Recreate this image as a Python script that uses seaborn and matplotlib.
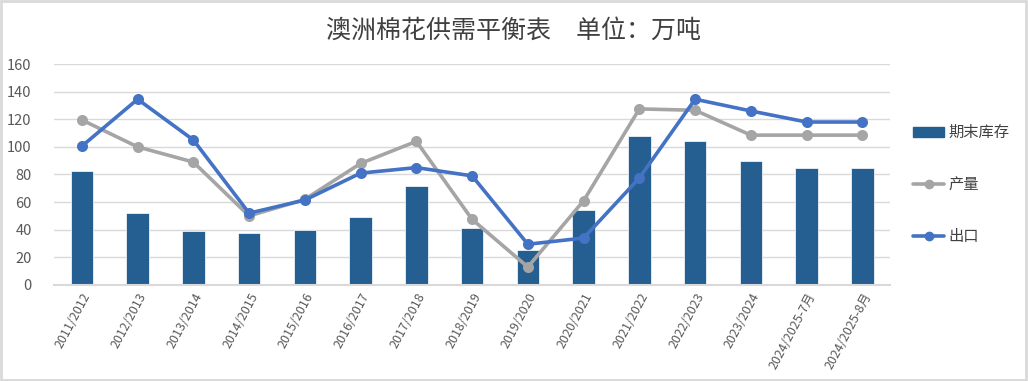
import pandas as pd
import seaborn as sns
import matplotlib.pyplot as plt
from matplotlib.lines import Line2D
from matplotlib.patches import Patch, Rectangle

# chart data (万吨)
seasons = ["2011/2012", "2012/2013", "2013/2014", "2014/2015", "2015/2016",
           "2016/2017", "2017/2018", "2018/2019", "2019/2020", "2020/2021",
           "2021/2022", "2022/2023", "2023/2024", "2024/2025-7月", "2024/2025-8月"]
ending_stock = [82.5, 52, 39, 38, 39.5, 49, 71.5, 41.5, 25.5, 54, 108, 104, 90, 85, 85]
production = [119.5, 100, 89, 50, 62, 88, 104, 47.5, 13, 61, 127.5, 126.5, 108.5, 108.5, 108.5]
exports = [100.5, 134.5, 105, 52, 61.5, 81, 85, 79, 29.5, 34, 77.5, 134.5, 126, 118, 118]

df = pd.DataFrame({"season": seasons, "stock": ending_stock,
                   "prod": production, "export": exports})

sns.set_theme(style="white")
plt.rcParams["font.family"] = ["Noto Sans CJK SC", "DejaVu Sans"]

bar_color = "#255E91"
prod_color = "#A5A5A5"
exp_color = "#4472C4"

fig = plt.figure(figsize=(10.28, 3.81), dpi=100)
ax = fig.add_axes([0.0525, 0.252, 0.8135, 0.58])

sns.barplot(data=df, x="season", y="stock", color=bar_color, width=0.4,
            saturation=1, edgecolor="white", linewidth=0.5, ax=ax, zorder=2)
sns.pointplot(data=df, x="season", y="prod", color=prod_color, markers="o",
              linestyles="-", linewidth=2.6, markersize=6, ax=ax, zorder=3)
sns.pointplot(data=df, x="season", y="export", color=exp_color, markers="o",
              linestyles="-", linewidth=2.6, markersize=6, ax=ax, zorder=4)

ax.set_ylim(0, 160)
ax.set_xlim(-0.5, len(seasons) - 0.5)
ax.set_yticks(range(0, 161, 20))
ax.yaxis.grid(True, color="#D9D9D9", linewidth=1)
ax.set_axisbelow(True)
for side in ["top", "right", "left"]:
    ax.spines[side].set_visible(False)
ax.spines["bottom"].set_color("#D9D9D9")
ax.spines["bottom"].set_linewidth(1.5)
ax.set_xlabel("")
ax.set_ylabel("")
ax.tick_params(axis="y", colors="#595959", labelsize=10.5, length=0, pad=16)
ax.tick_params(axis="x", colors="#595959", labelsize=9, length=0, pad=4)
plt.setp(ax.get_xticklabels(), rotation=62, ha="right", rotation_mode="anchor")

handles = [
    Patch(facecolor=bar_color, edgecolor=bar_color),
    Line2D([0], [0], color=prod_color, lw=2.6, marker="o", markersize=6),
    Line2D([0], [0], color=exp_color, lw=2.6, marker="o", markersize=6),
]
leg = fig.legend(handles, ["期末库存", "产量", "出口"], loc="center left",
                 bbox_to_anchor=(0.875, 0.515), frameon=False, fontsize=11,
                 labelspacing=2.3, handlelength=2.0, handletextpad=0.3,
                 handleheight=0.6)
for t in leg.get_texts():
    t.set_color("#404040")

fig.text(0.5, 0.918, "澳洲棉花供需平衡表　单位：万吨", ha="center", va="center",
         fontsize=18, color="#404040")

fig.patches.append(Rectangle((0.001, 0.002), 0.997, 0.995, transform=fig.transFigure,
                             fill=False, edgecolor="#D9D9D9", linewidth=2))

fig.savefig("out.png", dpi=100)
